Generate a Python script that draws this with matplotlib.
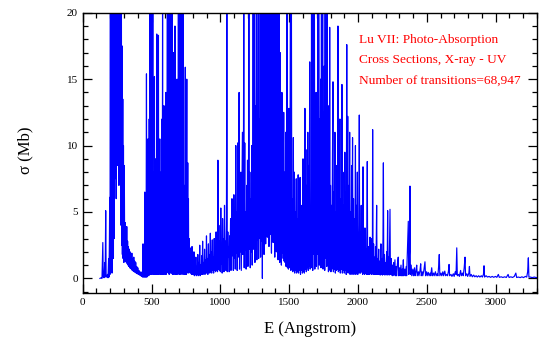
import matplotlib
matplotlib.use('Agg')
import matplotlib.pyplot as plt
from matplotlib.ticker import MultipleLocator

# photo-absorption cross section (Mb) vs wavelength (Angstrom)
# peaks and troughs by band, each list is (E, sigma)
band_150 = [(125, 0.0), (135, 0.05), (140, 0.0), (146, 2.7), (149, 0.1), (155, 0.05),
            (160, 1.2), (163, 0.1), (167, 5.1), (170, 0.2), (174, 0.1), (180, 0.3),
            (184, 0.05), (188, 1.5), (191, 0.1), (194, 3.0)]

band_250 = [(196, 6.1), (198, 0.3), (201, 21), (203, 0.5), (206, 21), (208, 1.0), (211, 21),
            (213, 0.4), (216, 21), (218, 2.0), (221, 21), (223, 1.5), (226, 21), (228, 3.0),
            (231, 21), (233, 7.5), (236, 21), (238, 9.0), (241, 21), (243, 6.0), (246, 21),
            (248, 11.0), (251, 21), (253, 8.5), (256, 21), (258, 10.5), (261, 21), (263, 7.0),
            (266, 21), (268, 12.5), (271, 21), (273, 9.5), (276, 21), (278, 4.0), (281, 21),
            (283, 2.5), (286, 17.5), (288, 1.8), (291, 13.5), (293, 1.5), (296, 10.0), (299, 1.2)]

band_380 = [(302, 8.5), (305, 1.4), (308, 4.2), (311, 1.3), (314, 3.6), (317, 1.2), (320, 3.9),
            (323, 1.1), (326, 2.8), (329, 1.0), (332, 2.4), (335, 0.9), (338, 2.2), (341, 0.8),
            (344, 2.0), (347, 0.75), (350, 1.8), (353, 0.7), (357, 1.9), (360, 0.6), (364, 1.5),
            (367, 0.55), (371, 1.6), (374, 0.5), (378, 1.3), (381, 0.45), (385, 1.2), (388, 0.4),
            (392, 0.9), (396, 0.35), (400, 0.8), (404, 0.3), (408, 0.6), (412, 0.25), (416, 0.5),
            (420, 0.2), (424, 0.45), (428, 0.15), (432, 0.5), (435, 0.1), (438, 2.6), (441, 0.1),
            (445, 0.6), (448, 0.1), (451, 6.5), (454, 0.1), (457, 1.5), (460, 0.1), (463, 15.4),
            (466, 0.1)]

band_600 = [(468, 0.2), (470, 5.5), (472, 0.2), (474, 10.5), (476, 0.3), (478, 6.0), (480, 0.2),
            (483, 12.0), (485, 0.3), (487, 21), (489, 0.3), (491, 7.0), (493, 0.3), (495, 21),
            (497, 0.4), (499, 6.5), (501, 0.3), (503, 21), (505, 0.4), (507, 7.0), (509, 21),
            (511, 0.3), (513, 6.0), (515, 0.3), (517, 8.0), (519, 0.4), (521, 15.2), (523, 0.3),
            (525, 6.5), (527, 0.3), (530, 9.0), (532, 0.4), (534, 5.5), (536, 0.3), (538, 18.4),
            (540, 0.5), (542, 6.0), (544, 0.3), (546, 7.1), (548, 0.4), (550, 18.3), (552, 0.3),
            (555, 6.5), (557, 0.4), (560, 10.5), (562, 0.3), (564, 5.8), (566, 0.4), (568, 8.0),
            (570, 0.3), (572, 6.4), (574, 0.5), (576, 12.0), (578, 0.3), (580, 21), (582, 0.4),
            (585, 6.8), (587, 0.3), (590, 13.0), (592, 0.4), (595, 7.0), (597, 0.3), (600, 9.5),
            (602, 0.4), (604, 14.0), (606, 0.3), (608, 6.5), (610, 0.4), (613, 11.0), (615, 21),
            (617, 0.5), (619, 7.0), (621, 21), (623, 0.4), (626, 6.6), (628, 0.3), (630, 21),
            (632, 0.5), (635, 8.0), (637, 21), (639, 0.4), (642, 6.0), (644, 21), (646, 0.4),
            (648, 7.5), (650, 21), (652, 0.3), (655, 6.8), (657, 0.4), (660, 17.0), (662, 0.3),
            (665, 7.0), (667, 0.4), (670, 19.0), (672, 0.3), (675, 6.2), (677, 0.4), (680, 9.0),
            (682, 0.3), (685, 15.0), (687, 0.5), (690, 6.5), (692, 0.3), (695, 21), (697, 0.4),
            (700, 7.2), (702, 21), (704, 0.3), (707, 6.5), (709, 0.4), (712, 21), (714, 0.3),
            (717, 8.0), (719, 21), (721, 0.4), (724, 6.0), (726, 21), (728, 0.3), (731, 21),
            (733, 0.4), (736, 5.5), (738, 0.3), (741, 7.0), (743, 0.4), (745, 15.9), (747, 0.3),
            (750, 5.0), (752, 0.3), (756, 15.0), (758, 0.4), (761, 4.5), (763, 8.7), (765, 0.5),
            (768, 6.0), (770, 0.4), (773, 3.0), (776, 0.5)]

band_890 = [(780, 2.3), (783, 0.4), (787, 1.5), (790, 0.3), (794, 2.4), (797, 0.3), (801, 1.2),
            (804, 0.3), (808, 2.0), (811, 0.2), (815, 1.0), (818, 0.3), (822, 1.6), (825, 0.2),
            (829, 0.9), (832, 0.3), (836, 1.8), (839, 0.2), (843, 1.2), (846, 0.3), (850, 2.5),
            (853, 0.2), (857, 1.0), (860, 0.3), (864, 1.7), (867, 0.3), (871, 2.8), (874, 0.3),
            (878, 1.2), (881, 0.4), (885, 2.2), (888, 0.3), (892, 1.4), (895, 0.4), (899, 3.2),
            (902, 0.4), (906, 1.5), (909, 0.3), (913, 2.6), (916, 0.5), (920, 1.8), (923, 0.4),
            (927, 3.4), (930, 0.5), (934, 2.0), (937, 0.4), (941, 2.9), (944, 0.6), (948, 1.6),
            (951, 0.4), (955, 3.0), (958, 0.6), (962, 2.2), (965, 0.5), (969, 3.5), (972, 0.6),
            (976, 2.5), (979, 0.5), (982, 8.9), (985, 0.7), (989, 4.0), (993, 0.6), (996, 2.8)]

band_1120 = [(1000, 0.5), (1003, 5.3), (1006, 1.1), (1010, 2.5), (1013, 0.4), (1016, 4.5),
             (1019, 1.3), (1023, 3.0), (1026, 0.5), (1030, 5.5), (1033, 1.4), (1037, 2.8),
             (1040, 0.6), (1044, 4.0), (1047, 21), (1050, 0.5), (1054, 3.5), (1057, 1.6),
             (1061, 2.4), (1064, 0.5), (1067, 3.2), (1070, 1.2), (1074, 4.5), (1077, 0.6),
             (1081, 2.5), (1084, 6.0), (1087, 1.7), (1091, 3.6), (1094, 0.6), (1098, 6.3),
             (1101, 1.5), (1105, 4.0), (1108, 0.7), (1112, 10.0), (1115, 1.9), (1119, 5.0),
             (1122, 0.6), (1126, 10.2), (1129, 1.6), (1133, 4.8), (1136, 14.0), (1139, 0.7),
             (1143, 6.0), (1146, 2.0), (1149, 8.0), (1152, 0.6), (1156, 5.5), (1160, 11.0),
             (1163, 1.8), (1167, 6.5), (1170, 21), (1173, 0.8), (1177, 10.2), (1180, 2.1),
             (1184, 5.0), (1187, 0.7), (1191, 7.0), (1194, 1.9), (1197, 8.9), (1200, 0.9),
             (1204, 5.5), (1207, 21), (1210, 2.2), (1214, 8.0), (1217, 0.8), (1221, 6.0),
             (1224, 2.0), (1228, 10.0), (1231, 1.0), (1235, 6.5), (1238, 21), (1241, 2.2)]

band_1350 = [(1245, 3.5), (1248, 21), (1251, 1.2), (1255, 13.0), (1258, 2.6), (1262, 21),
             (1265, 1.4), (1268, 9.5), (1271, 2.9), (1275, 21), (1278, 1.5), (1282, 12.0),
             (1285, 3.0), (1289, 21), (1292, 1.6), (1296, 10.0), (1299, 2.8), (1302, 21),
             (1305, 0.0), (1308, 21), (1311, 3.0), (1314, 21), (1317, 1.8), (1320, 21),
             (1323, 4.2), (1326, 21), (1329, 2.6), (1332, 21), (1335, 4.6), (1338, 21),
             (1341, 3.1), (1344, 21), (1347, 5.0), (1350, 21), (1353, 2.4), (1356, 21),
             (1359, 4.5), (1362, 21), (1365, 3.3), (1368, 21), (1371, 1.9), (1374, 21),
             (1377, 4.1), (1380, 21), (1383, 2.7), (1386, 21), (1389, 3.8), (1392, 21),
             (1395, 1.6), (1398, 21), (1401, 3.4), (1404, 21), (1407, 2.0), (1410, 21),
             (1413, 3.0), (1416, 21), (1419, 1.4), (1422, 21), (1425, 2.6), (1428, 21),
             (1431, 1.2), (1434, 17.0), (1437, 2.3), (1440, 12.0), (1443, 1.0), (1447, 14.0),
             (1450, 1.9)]

band_1550 = [(1453, 9.5), (1456, 1.5), (1460, 12.5), (1463, 1.3), (1467, 8.0), (1470, 1.2),
             (1474, 11.0), (1477, 0.9), (1481, 6.5), (1484, 21), (1487, 0.8), (1491, 9.5),
             (1494, 0.7), (1498, 12.8), (1501, 0.8), (1505, 7.0), (1509, 21), (1512, 0.6),
             (1516, 21), (1519, 0.7), (1523, 6.0), (1526, 0.5), (1530, 10.6), (1533, 0.6),
             (1537, 8.0), (1540, 0.4), (1544, 5.0), (1547, 0.6), (1551, 7.5), (1554, 0.4),
             (1558, 4.5), (1561, 0.5), (1565, 7.8), (1568, 0.4), (1572, 4.5), (1575, 0.6),
             (1579, 7.6), (1582, 0.3), (1586, 5.5), (1589, 0.6), (1593, 3.8), (1596, 0.4),
             (1600, 9.0), (1603, 0.5), (1607, 6.0), (1610, 0.4), (1614, 12.8), (1617, 0.7),
             (1621, 9.7), (1624, 0.5), (1628, 7.0), (1631, 0.8), (1635, 11.0), (1638, 0.6),
             (1642, 8.5), (1645, 0.9), (1649, 16.3), (1652, 0.7)]

band_1730 = [(1656, 5.0), (1659, 0.8), (1662, 21), (1665, 1.2), (1668, 8.0), (1671, 0.6),
             (1674, 21), (1677, 1.8), (1680, 13.0), (1683, 21), (1686, 0.7), (1689, 9.0),
             (1692, 1.5), (1695, 14.0), (1698, 0.9), (1701, 11.0), (1704, 1.8), (1707, 21),
             (1710, 0.7), (1713, 10.0), (1716, 21), (1719, 1.0), (1722, 12.0), (1725, 2.0),
             (1728, 15.0), (1731, 0.8), (1734, 21), (1737, 1.4), (1740, 9.5), (1743, 21),
             (1746, 0.7), (1749, 12.5), (1752, 1.6), (1755, 16.0), (1758, 0.6), (1761, 21),
             (1764, 1.5), (1767, 11.0), (1770, 21), (1773, 0.9), (1776, 21), (1779, 1.1),
             (1782, 10.0), (1785, 0.5), (1788, 13.0), (1791, 0.8), (1794, 18.9), (1797, 0.6)]

band_1900 = [(1800, 7.0), (1803, 0.5), (1807, 5.5), (1810, 0.7), (1814, 9.0), (1818, 14.8),
             (1821, 0.5), (1825, 6.5), (1828, 0.7), (1832, 11.0), (1835, 0.4), (1839, 5.0),
             (1842, 0.6), (1846, 8.5), (1850, 0.7), (1854, 19.0), (1857, 0.5), (1861, 7.0),
             (1864, 0.6), (1868, 12.0), (1871, 0.4), (1875, 6.0), (1879, 0.7), (1883, 14.6),
             (1886, 0.4), (1890, 8.0), (1893, 0.6), (1897, 5.5), (1900, 0.4), (1904, 9.5),
             (1907, 0.6), (1911, 6.5), (1914, 0.3), (1918, 17.6), (1921, 0.5), (1925, 12.2),
             (1928, 0.4), (1932, 7.0), (1935, 0.6), (1939, 11.0), (1942, 0.3), (1946, 5.0),
             (1949, 0.5), (1953, 8.5), (1956, 0.3), (1960, 10.6), (1963, 0.5), (1967, 6.0),
             (1970, 0.3), (1974, 4.5), (1977, 0.5), (1981, 10.0), (1984, 0.3), (1988, 5.5),
             (1991, 0.4), (1995, 8.0), (1998, 0.3)]

band_2250 = [(2002, 0.6), (2006, 4.0), (2009, 12.3), (2012, 0.4), (2016, 3.5), (2019, 0.4),
             (2023, 5.5), (2026, 0.5), (2030, 2.8), (2033, 0.3), (2036, 8.4), (2039, 0.4),
             (2043, 2.5), (2046, 0.3), (2050, 3.8), (2053, 0.4), (2057, 2.2), (2060, 0.3),
             (2064, 3.5), (2067, 8.8), (2070, 0.3), (2074, 2.4), (2077, 0.3), (2081, 1.8),
             (2084, 0.3), (2087, 3.1), (2090, 0.4), (2094, 2.0), (2097, 0.3), (2101, 3.0),
             (2104, 0.4), (2106, 11.2), (2109, 0.3), (2113, 2.6), (2116, 0.3), (2120, 1.6),
             (2123, 0.3), (2127, 2.4), (2130, 0.3), (2135, 5.5), (2138, 0.3), (2142, 1.5),
             (2145, 0.3), (2150, 2.2), (2153, 0.3), (2158, 1.3), (2161, 0.25), (2166, 2.6),
             (2169, 0.3), (2174, 1.5), (2177, 0.25), (2181, 3.0), (2184, 8.7), (2187, 0.3),
             (2192, 1.8), (2195, 0.25), (2200, 1.2), (2203, 0.3), (2208, 2.0), (2211, 0.25),
             (2215, 5.1), (2218, 0.3), (2223, 1.6), (2226, 0.25), (2232, 5.2), (2235, 0.3),
             (2240, 1.5), (2243, 0.25), (2249, 1.0), (2252, 0.2), (2258, 1.2), (2261, 0.25),
             (2268, 1.4), (2271, 0.2), (2277, 0.9), (2280, 0.2), (2286, 1.1), (2292, 1.6),
             (2295, 0.2), (2302, 0.8), (2305, 0.2), (2312, 1.0), (2315, 0.2), (2321, 0.7),
             (2324, 0.2), (2329, 1.4), (2332, 0.2), (2340, 0.7), (2343, 0.2), (2350, 0.9),
             (2353, 0.2), (2360, 2.5), (2365, 4.3), (2368, 0.3), (2374, 2.0), (2377, 6.95),
             (2380, 0.3), (2386, 1.0), (2390, 0.2), (2398, 0.7), (2402, 0.2), (2410, 0.8),
             (2414, 0.2), (2420, 0.5), (2426, 1.0), (2430, 0.2), (2438, 0.5), (2442, 0.2),
             (2450, 0.6), (2455, 1.1), (2459, 0.2), (2466, 0.5), (2470, 0.2), (2478, 0.6),
             (2486, 1.25), (2490, 0.2), (2498, 0.5), (2502, 0.2)]

band_2900 = [(2510, 0.45), (2516, 0.2), (2524, 0.4), (2528, 0.2), (2535, 0.8), (2540, 0.2),
             (2548, 0.4), (2553, 0.2), (2562, 0.5), (2567, 0.2), (2575, 0.35), (2580, 0.2),
             (2586, 1.0), (2590, 1.8), (2594, 0.2), (2602, 0.4), (2608, 0.2), (2616, 0.5),
             (2621, 0.2), (2630, 0.55), (2636, 0.2), (2645, 0.3), (2650, 0.2), (2656, 0.5),
             (2661, 1.05), (2665, 0.2), (2675, 0.3), (2682, 0.15), (2692, 0.35), (2698, 0.15),
             (2706, 0.5), (2712, 0.3), (2717, 2.3), (2721, 0.2), (2730, 0.3), (2736, 0.15),
             (2745, 0.6), (2750, 0.2), (2758, 0.4), (2764, 0.2), (2771, 0.8), (2777, 1.6),
             (2781, 0.2), (2790, 0.35), (2796, 0.15), (2805, 0.4), (2809, 0.9), (2813, 0.15),
             (2822, 0.3), (2830, 0.12), (2840, 0.25), (2848, 0.12), (2858, 0.2), (2866, 0.1),
             (2876, 0.2), (2885, 0.1), (2895, 0.2), (2903, 0.1), (2911, 0.3), (2915, 0.95),
             (2919, 0.1), (2930, 0.2), (2940, 0.1), (2952, 0.15), (2962, 0.08), (2975, 0.15),
             (2985, 0.08), (2998, 0.15), (3008, 0.08), (3019, 0.3), (3026, 0.08), (3040, 0.12),
             (3052, 0.07), (3065, 0.12), (3077, 0.07), (3090, 0.3), (3097, 0.07), (3110, 0.12),
             (3122, 0.07), (3135, 0.15), (3146, 0.4), (3152, 0.07), (3165, 0.1), (3178, 0.06),
             (3190, 0.12), (3202, 0.06), (3215, 0.15), (3225, 0.1), (3232, 0.5), (3237, 1.55),
             (3241, 0.1), (3252, 0.1), (3265, 0.06), (3280, 0.1), (3295, 0.06), (3310, 0.08)]

bands = [band_150, band_250, band_380, band_600, band_890, band_1120, band_1350,
         band_1550, band_1730, band_1900, band_2250, band_2900]

wave = [p[0] for b in bands for p in b]
sigma = [p[1] for b in bands for p in b]

info = ['Lu VII: Photo-Absorption', 'Cross Sections, X-ray - UV',
        'Number of transitions=68,947']

plt.rcParams['font.family'] = ['Liberation Serif', 'DejaVu Serif']

fig = plt.figure(figsize=(5.5, 3.44), dpi=100)
ax = fig.add_axes([0.1504, 0.149, 0.826, 0.814])
ax.plot(wave, sigma, color='#0000ff', linewidth=0.85)

ax.set_xlim(0, 3300)
ax.set_ylim(-1.08, 20)
ax.xaxis.set_major_locator(MultipleLocator(500))
ax.xaxis.set_minor_locator(MultipleLocator(100))
ax.yaxis.set_major_locator(MultipleLocator(5))
ax.yaxis.set_minor_locator(MultipleLocator(1))
ax.tick_params(which='both', direction='in', top=True, right=True, labelsize=8, width=0.9)
ax.tick_params(which='major', length=6.5, pad=3.5)
ax.tick_params(which='minor', length=3.3)
for s in ax.spines.values():
    s.set_linewidth(1.0)

fig.text(25 / 550, 1 - 150 / 344, 'σ (Mb)', rotation=90, ha='center', va='center', fontsize=12)
fig.text(310 / 550, 1 - 329 / 344, 'E (Angstrom)', ha='center', va='center', fontsize=12)

for i, line in enumerate(info):
    fig.text(359 / 550, 1 - (40 + 20.5 * i) / 344, line, color='#ff0000',
             ha='left', va='center', fontsize=9.6)

fig.savefig('out.png', dpi=100)
